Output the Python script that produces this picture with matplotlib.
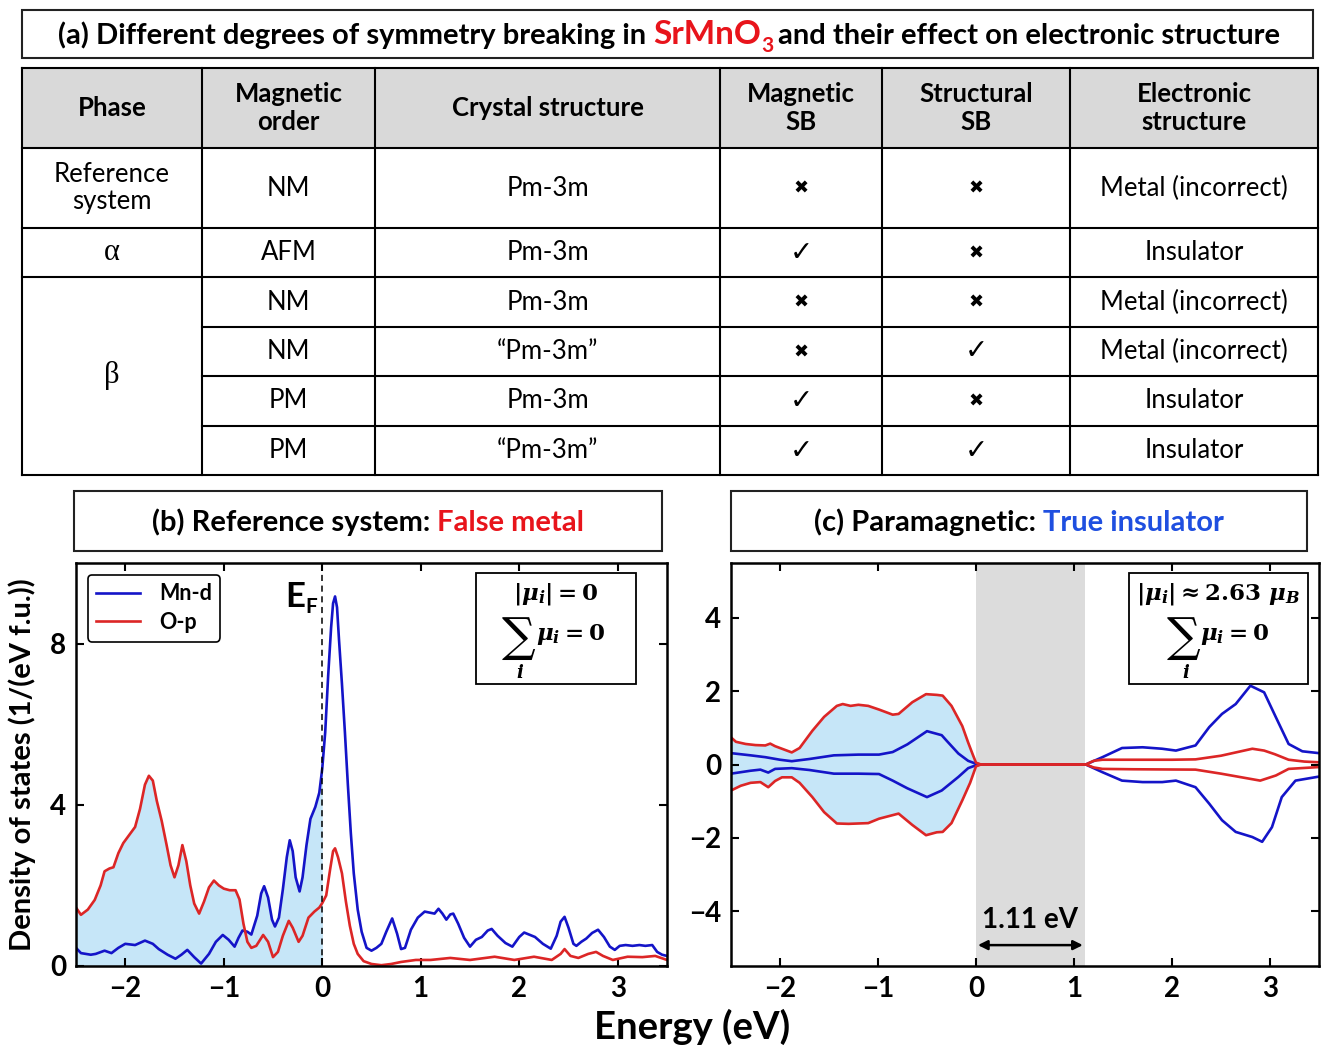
import numpy as np
import matplotlib
matplotlib.use('Agg')
from matplotlib import pyplot as plt
from matplotlib.patches import Rectangle
from matplotlib.font_manager import FontProperties

W, H = 1321, 1051
SANS = ['Lato', 'DejaVu Sans']
SERIF = ['Liberation Serif', 'DejaVu Serif']
BLUE = '#1414c8'
RED = '#dc2626'
FILL = '#c6e6f8'
TRED = '#e8141b'
TBLUE = '#1f4fe0'

plt.rcParams['mathtext.fontset'] = 'custom'
plt.rcParams['mathtext.rm'] = 'DejaVu Serif:bold'
plt.rcParams['mathtext.it'] = 'DejaVu Serif:italic:bold'
plt.rcParams['mathtext.bf'] = 'DejaVu Serif:bold'

# ---------------- (a) table ----------------
col_heads = ['Phase', 'Magnetic\norder', 'Crystal structure', 'Magnetic\nSB', 'Structural\nSB', 'Electronic\nstructure']
phases = ['Reference\nsystem', 'α', 'β']
phase_rows = [1, 1, 4]
mag_order = ['NM', 'AFM', 'NM', 'NM', 'PM', 'PM']
crystal = ['Pm-3m', 'Pm-3m', 'Pm-3m', '“Pm-3m”', 'Pm-3m', '“Pm-3m”']
mag_sb = [False, True, False, False, True, True]
struct_sb = [False, False, False, True, False, True]
electronic = ['Metal (incorrect)', 'Insulator', 'Metal (incorrect)', 'Metal (incorrect)', 'Insulator', 'Insulator']

# ---------------- (b) reference system DOS ----------------
b_mnd_e = [-2.5, -2.45, -2.35, -2.3, -2.21, -2.14, -2.07, -2.0, -1.9, -1.8, -1.72, -1.66, -1.57, -1.49,
           -1.43, -1.37, -1.3, -1.23, -1.15, -1.08, -1.01, -0.95, -0.89, -0.85, -0.81, -0.76, -0.72,
           -0.66, -0.62, -0.59, -0.55, -0.51, -0.48, -0.44, -0.4, -0.36, -0.33, -0.3, -0.27, -0.23,
           -0.2, -0.16, -0.12, -0.07, -0.03, 0.0, 0.03, 0.06, 0.09, 0.11, 0.13, 0.15, 0.17, 0.2, 0.23,
           0.26, 0.29, 0.32, 0.36, 0.4, 0.45, 0.5, 0.55, 0.6, 0.65, 0.71, 0.76, 0.8, 0.84, 0.9, 0.97,
           1.04, 1.1, 1.14, 1.18, 1.22, 1.26, 1.3, 1.33, 1.38, 1.44, 1.5, 1.56, 1.62, 1.68, 1.72, 1.78,
           1.86, 1.93, 2.0, 2.05, 2.1, 2.16, 2.24, 2.32, 2.38, 2.42, 2.46, 2.5, 2.55, 2.58, 2.63, 2.68,
           2.74, 2.8, 2.86, 2.92, 2.97, 3.02, 3.08, 3.15, 3.22, 3.28, 3.35, 3.4, 3.45, 3.5]
b_mnd = [0.45, 0.32, 0.28, 0.3, 0.38, 0.32, 0.45, 0.55, 0.52, 0.63, 0.55, 0.42, 0.28, 0.18,
         0.28, 0.4, 0.22, 0.06, 0.3, 0.6, 0.77, 0.65, 0.48, 0.7, 0.88, 0.85, 0.78,
         1.25, 1.8, 1.98, 1.7, 1.15, 0.98, 1.2, 1.9, 2.7, 3.12, 2.85, 2.2, 1.85,
         2.2, 3.0, 3.65, 3.95, 4.3, 4.9, 5.8, 7.2, 8.4, 9.0, 9.17, 8.9, 8.1, 7.0, 5.8,
         4.5, 3.3, 2.3, 1.4, 0.85, 0.45, 0.38, 0.45, 0.55, 0.85, 1.18, 0.8, 0.42, 0.45, 0.9, 1.2,
         1.35, 1.32, 1.3, 1.42, 1.3, 1.15, 1.28, 1.3, 1.05, 0.7, 0.48, 0.65, 0.72, 0.88, 0.92, 0.75,
         0.57, 0.48, 0.72, 0.83, 0.78, 0.72, 0.55, 0.43, 0.75, 1.1, 1.22, 0.95, 0.55, 0.5, 0.6, 0.68,
         0.82, 0.9, 0.72, 0.48, 0.4, 0.5, 0.52, 0.5, 0.52, 0.5, 0.52, 0.35, 0.28, 0.25]

b_op_e = [-2.5, -2.45, -2.38, -2.31, -2.25, -2.21, -2.16, -2.12, -2.07, -2.02, -1.96, -1.9, -1.85,
          -1.8, -1.76, -1.72, -1.68, -1.63, -1.58, -1.54, -1.5, -1.46, -1.42, -1.38, -1.34, -1.3,
          -1.25, -1.2, -1.15, -1.1, -1.05, -1.0, -0.94, -0.88, -0.84, -0.8, -0.76, -0.72, -0.67,
          -0.6, -0.55, -0.5, -0.45, -0.4, -0.34, -0.3, -0.24, -0.2, -0.14, -0.08, -0.03, 0.0, 0.04,
          0.08, 0.11, 0.13, 0.16, 0.2, 0.24, 0.28, 0.32, 0.36, 0.42, 0.5, 0.6, 0.7, 0.8, 0.95, 1.1,
          1.3, 1.5, 1.75, 1.95, 2.15, 2.33, 2.42, 2.46, 2.52, 2.6, 2.7, 2.78, 2.85, 2.95, 3.1, 3.25,
          3.38, 3.5]
b_op = [1.45, 1.27, 1.4, 1.64, 2.0, 2.35, 2.42, 2.45, 2.8, 3.05, 3.25, 3.45, 3.9,
        4.5, 4.72, 4.6, 4.1, 3.6, 3.0, 2.5, 2.2, 2.5, 3.0, 2.6, 2.0, 1.55,
        1.3, 1.6, 1.95, 2.12, 2.0, 1.92, 1.88, 1.88, 1.65, 1.05, 0.6, 0.45, 0.5,
        0.77, 0.6, 0.22, 0.35, 0.75, 1.12, 0.95, 0.6, 0.75, 1.2, 1.35, 1.45, 1.56, 1.75,
        2.4, 2.85, 2.92, 2.7, 2.3, 1.6, 1.0, 0.55, 0.3, 0.12, 0.05, 0.02, 0.05, 0.1, 0.15, 0.15,
        0.2, 0.15, 0.23, 0.15, 0.23, 0.15, 0.3, 0.42, 0.25, 0.2, 0.3, 0.35, 0.25, 0.15, 0.23, 0.22,
        0.25, 0.15]

# ---------------- (c) paramagnetic DOS (up > 0, down < 0) ----------------
c_op_up_e = [-2.5, -2.45, -2.35, -2.25, -2.15, -2.1, -2.05, -1.95, -1.88, -1.8, -1.67, -1.55, -1.42,
             -1.36, -1.28, -1.2, -1.1, -0.99, -0.85, -0.79, -0.65, -0.51, -0.4, -0.34, -0.25, -0.14,
             -0.08, -0.03, 0.0, 0.05, 1.12, 1.2, 1.29, 1.6, 2.0, 2.24, 2.5, 2.82, 2.94, 3.05, 3.19,
             3.35, 3.5]
c_op_up = [0.74, 0.62, 0.56, 0.53, 0.52, 0.57, 0.5, 0.4, 0.33, 0.45, 0.92, 1.3, 1.6,
           1.65, 1.6, 1.63, 1.6, 1.5, 1.36, 1.38, 1.7, 1.92, 1.9, 1.88, 1.6, 1.05,
           0.6, 0.25, 0.05, 0.0, 0.0, 0.1, 0.13, 0.13, 0.13, 0.14, 0.24, 0.43, 0.38, 0.28, 0.13,
           0.08, 0.06]
c_op_dn_e = [-2.5, -2.4, -2.3, -2.2, -2.12, -2.05, -1.98, -1.88, -1.8, -1.67, -1.55, -1.42, -1.3,
             -1.1, -0.99, -0.79, -0.65, -0.51, -0.4, -0.34, -0.25, -0.14, -0.06, -0.02, 0.0, 0.05,
             1.12, 1.2, 1.29, 1.6, 2.24, 2.5, 2.9, 3.06, 3.19, 3.5]
c_op_dn = [-0.71, -0.58, -0.5, -0.48, -0.62, -0.45, -0.35, -0.35, -0.5, -0.89, -1.3, -1.61, -1.62,
           -1.6, -1.48, -1.34, -1.65, -1.93, -1.85, -1.84, -1.6, -0.98, -0.5, -0.2, -0.05, 0.0,
           0.0, -0.08, -0.12, -0.13, -0.14, -0.25, -0.44, -0.3, -0.12, -0.07]
c_mnd_up_e = [-2.5, -2.3, -2.15, -2.0, -1.88, -1.7, -1.45, -1.2, -0.99, -0.85, -0.7, -0.5, -0.35,
              -0.3, -0.18, -0.08, 0.0, 0.05, 1.12, 1.29, 1.49, 1.7, 1.9, 2.04, 2.24, 2.38, 2.51,
              2.65, 2.8, 2.94, 3.06, 3.19, 3.33, 3.5]
c_mnd_up = [0.31, 0.25, 0.2, 0.13, 0.09, 0.15, 0.25, 0.27, 0.27, 0.34, 0.55, 0.91, 0.8,
            0.65, 0.3, 0.1, 0.02, 0.0, 0.0, 0.2, 0.45, 0.47, 0.43, 0.38, 0.52, 1.02, 1.38,
            1.65, 2.15, 1.97, 1.29, 0.56, 0.36, 0.31]
c_mnd_dn_e = [-2.5, -2.3, -2.2, -2.12, -2.05, -1.88, -1.7, -1.45, -1.2, -0.99, -0.85, -0.7, -0.5,
              -0.35, -0.18, -0.08, 0.0, 0.05, 1.12, 1.29, 1.49, 1.7, 1.9, 2.04, 2.24, 2.38, 2.51,
              2.65, 2.82, 2.92, 3.02, 3.12, 3.26, 3.5]
c_mnd_dn = [-0.25, -0.17, -0.14, -0.22, -0.12, -0.1, -0.15, -0.25, -0.25, -0.26, -0.44, -0.65, -0.89,
            -0.71, -0.34, -0.1, -0.02, 0.0, 0.0, -0.21, -0.44, -0.48, -0.48, -0.44, -0.62, -1.07, -1.52,
            -1.84, -1.98, -2.11, -1.71, -0.89, -0.44, -0.33]
gap = 1.11

fig = plt.figure(figsize=(W / 100, H / 100), dpi=100)
ov = fig.add_axes([0, 0, 1, 1])
ov.set_xlim(0, W)
ov.set_ylim(H, 0)
ov.axis('off')
renderer = fig.canvas.get_renderer()


def text_run(parts, cx, y):
    # parts: (string, size, color, dy, gap_after)
    arts, widths = [], []
    for s, size, color, dy, g in parts:
        t = ov.text(0, y + dy, s, fontsize=size, color=color, fontweight='bold',
                    family=SANS, ha='left', va='baseline')
        arts.append(t)
        widths.append(t.get_window_extent(renderer).width + (0.25 * size * 100 / 72 if g else 0))
    x = cx - sum(widths) / 2
    for t, w in zip(arts, widths):
        t.set_x(x)
        x += w


# title (a)
ov.add_patch(Rectangle((22, 10), 1291, 48, fill=False, lw=1.5, ec='#222222'))
text_run([('(a) Different degrees of symmetry breaking in', 21, 'k', 0, True),
          ('SrMnO', 24, TRED, 0, False), ('3', 15, TRED, 8, True),
          ('and their effect on electronic structure', 21, 'k', 0, False)], 669, 44)

# table
col_edges = [22, 202, 375, 720, 882, 1070, 1318]
row_edges = [68, 148, 228, 277, 327, 376, 426, 475]
cx = [(a + b) / 2 for a, b in zip(col_edges[:-1], col_edges[1:])]
cy = [(a + b) / 2 for a, b in zip(row_edges[:-1], row_edges[1:])]
ov.add_patch(Rectangle((22, 68), 1296, 80, fc='#d9d9d9', ec='none'))
for i, h in enumerate(col_heads):
    ov.text(cx[i], cy[0], h, ha='center', va='center', fontsize=18.5, fontweight='bold',
            family=SANS, linespacing=1.15)
lw = 1.5
for y in [68, 148, 228, 277, 475]:
    ov.plot([22, 1318], [y, y], color='k', lw=lw)
for y in [327, 376, 426]:
    ov.plot([202, 1318], [y, y], color='k', lw=lw)
for x in col_edges:
    ov.plot([x, x], [68, 475], color='k', lw=lw)

r = 1
for p, n in zip(phases, phase_rows):
    yc = (row_edges[r] + row_edges[r + n]) / 2
    if len(p) > 1:
        ov.text(cx[0], yc, p, ha='center', va='center', fontsize=18.5, family=SANS, linespacing=1.15)
    else:
        ov.text(cx[0], yc, p, ha='center', va='center', fontsize=22, family=SERIF)
    r += n
for k in range(len(mag_order)):
    y = cy[k + 1]
    ov.text(cx[1], y, mag_order[k], ha='center', va='center', fontsize=18.5, family=SANS)
    ov.text(cx[2], y, crystal[k], ha='center', va='center', fontsize=18.5, family=SANS)
    for j, flag in [(3, mag_sb[k]), (4, struct_sb[k])]:
        if flag:
            ov.text(cx[j], y, '✓', ha='center', va='center', fontsize=20, family='DejaVu Sans')
        else:
            ov.text(cx[j], y + 1, '✖', ha='center', va='center', fontsize=13, family='DejaVu Sans')
    ov.text(cx[5], y, electronic[k], ha='center', va='center', fontsize=18.5, family=SANS)

# panel title boxes
ov.add_patch(Rectangle((74, 491), 588, 60, fill=False, lw=1.5, ec='#222222'))
text_run([('(b) Reference system:', 21, 'k', 0, True), ('False metal', 21, TRED, 0, False)], 368, 531)
ov.add_patch(Rectangle((731, 491), 576, 60, fill=False, lw=1.5, ec='#222222'))
text_run([('(c) Paramagnetic:', 21, 'k', 0, True), ('True insulator', 21, TBLUE, 0, False)], 1019, 531)


def style_axes(ax):
    ax.tick_params(direction='in', top=True, right=True, length=6, width=1.5,
                   labelsize=20, pad=7)
    for s in ax.spines.values():
        s.set_linewidth(1.8)
    for lab in ax.get_xticklabels() + ax.get_yticklabels():
        lab.set_fontweight('bold')
        lab.set_family(SANS)


def moment_box(ax, x0, w, line1, sx, mx):
    ax.add_patch(Rectangle((x0, 0.700), w, 0.274, transform=ax.transAxes,
                           fill=False, lw=1.3, ec='k'))
    ax.text(x0 + w / 2, 0.922, line1, transform=ax.transAxes, ha='center', va='center',
            fontsize=16.5)
    ax.text(sx, 0.812, '∑', transform=ax.transAxes, ha='center', va='center',
            fontsize=34, family=['DejaVu Serif'])
    ax.text(sx + 0.004, 0.728, r'$i$', transform=ax.transAxes, ha='center', va='center',
            fontsize=13)
    ax.text(mx, 0.822, r'$\mu_i = 0$', transform=ax.transAxes, ha='left', va='center',
            fontsize=16.5)


# ---------------- panel (b) ----------------
axb = fig.add_axes([76 / W, 1 - 966 / H, (667 - 76) / W, (966 - 563) / H])
be = np.array(b_mnd_e)
bo = np.array(b_op_e)
mb = be <= 0
mo = bo <= 0
axb.fill_between(be[mb], 0, np.array(b_mnd)[mb], color=FILL, lw=0)
axb.fill_between(bo[mo], 0, np.array(b_op)[mo], color=FILL, lw=0)
axb.plot(b_mnd_e, b_mnd, color=BLUE, lw=1.9, label='Mn-d')
axb.plot(b_op_e, b_op, color=RED, lw=1.9, label='O-p')
axb.axvline(0, color='k', ls='--', lw=1.1, dashes=(4, 3))
axb.set_xlim(-2.5, 3.5)
axb.set_ylim(0, 10)
axb.set_xticks([-2, -1, 0, 1, 2, 3])
axb.set_yticks([0, 4, 8])
style_axes(axb)
leg_font = FontProperties(family='Lato', weight='bold', size=15.5)
leg = axb.legend(loc='upper left', prop=leg_font,
                 edgecolor='k', fancybox=True, framealpha=1, handlelength=2.0,
                 borderaxespad=0.55, labelspacing=0.35, handletextpad=0.9)
leg.get_frame().set_linewidth(1.2)
axb.text(-0.38, 8.92, 'E', fontsize=25, fontweight='bold', family=SANS, ha='left', va='baseline')
axb.text(-0.17, 8.75, 'F', fontsize=15, fontweight='bold', family=SANS, ha='left', va='baseline')
moment_box(axb, 0.677, 0.271, r'$|\mu_i| = 0$', 0.748, 0.778)

# ---------------- panel (c) ----------------
axc = fig.add_axes([731 / W, 1 - 966 / H, (1319 - 731) / W, (966 - 563) / H])
axc.axvspan(0, gap, color='#dcdcdc', lw=0, zorder=0)
ue = np.array(c_op_up_e)
de = np.array(c_op_dn_e)
axc.fill_between(ue[ue <= 0.05], 0, np.array(c_op_up)[ue <= 0.05], color=FILL, lw=0)
axc.fill_between(de[de <= 0.05], np.array(c_op_dn)[de <= 0.05], 0, color=FILL, lw=0)
axc.plot(c_mnd_up_e, c_mnd_up, color=BLUE, lw=1.9)
axc.plot(c_mnd_dn_e, c_mnd_dn, color=BLUE, lw=1.9)
axc.plot(c_op_up_e, c_op_up, color=RED, lw=1.9)
axc.plot(c_op_dn_e, c_op_dn, color=RED, lw=1.9)
axc.set_xlim(-2.5, 3.5)
axc.set_ylim(-5.5, 5.5)
axc.set_xticks([-2, -1, 0, 1, 2, 3])
axc.set_yticks([-4, -2, 0, 2, 4])
style_axes(axc)
axc.annotate('', xy=(0.02, -4.93), xytext=(gap - 0.02, -4.93),
             arrowprops=dict(arrowstyle='<|-|>', color='k', lw=1.8, mutation_scale=14,
                             shrinkA=0, shrinkB=0))
axc.text(gap / 2, -4.25, '%.2f eV' % gap, ha='center', va='center', fontsize=20,
         fontweight='bold', family=SANS)
moment_box(axc, 0.677, 0.304, r'$|\mu_i| \approx 2.63\ \mu_B$', 0.77, 0.798)

fig.text(22 / W, 1 - 765 / H, 'Density of states (1/(eV f.u.))', rotation=90, ha='center',
         va='center', fontsize=21, fontweight='bold', family=SANS)
fig.text(692 / W, 1 - 1027 / H, 'Energy (eV)', ha='center', va='center', fontsize=27.5,
         fontweight='bold', family=SANS)

fig.savefig('out.png', dpi=100)
